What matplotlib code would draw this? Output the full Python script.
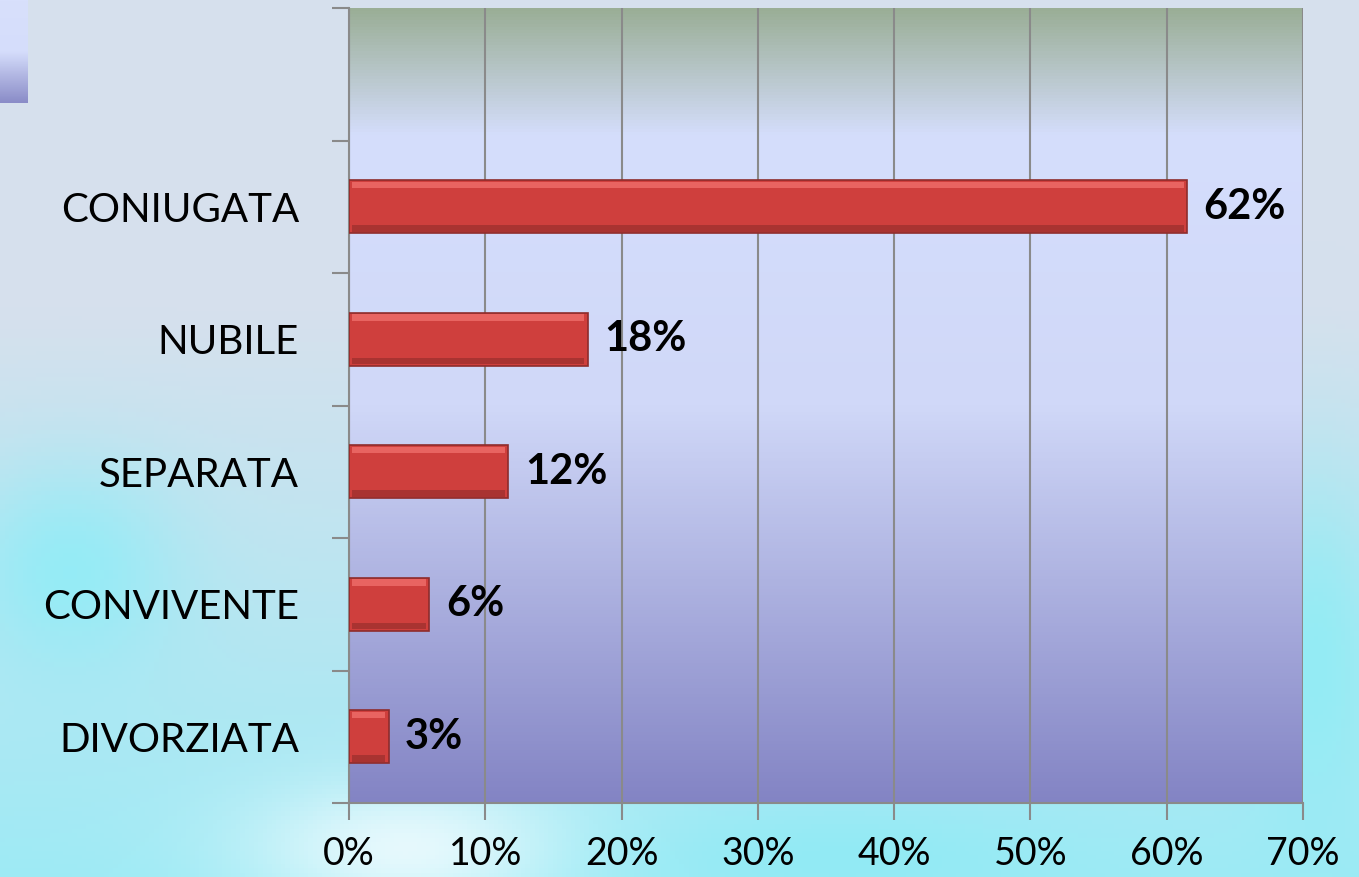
import numpy as np
import matplotlib
matplotlib.use("Agg")
import matplotlib.pyplot as plt
from matplotlib.colors import LinearSegmentedColormap

matplotlib.rcParams['font.family'] = ['Lato', 'DejaVu Sans']

# data (bottom to top), top slot is an empty category
categories = ["DIVORZIATA", "CONVIVENTE", "SEPARATA", "NUBILE", "CONIUGATA", ""]
values = [2.9, 5.9, 11.7, 17.5, 61.5, None]
labels = ["3%", "6%", "12%", "18%", "62%", ""]
xticks = [0, 10, 20, 30, 40, 50, 60, 70]

W, H = 1359, 877
fig = plt.figure(figsize=(W / 100, H / 100), dpi=100)

# slide background
bg = fig.add_axes([0, 0, 1, 1], zorder=-10)
yy, xx = np.mgrid[0:1:200j, 0:1:300j]
top = np.array([0.84, 0.88, 0.93])
bot = np.array([0.62, 0.92, 0.96])
t = np.clip((yy - 0.35) / 0.65, 0, 1)[..., None]
img = top * (1 - t) + bot * t
def blob(cx, cy, sx, sy, col, a):
    g = np.exp(-(((xx - cx) / sx) ** 2 + ((yy - cy) / sy) ** 2))[..., None] * a
    return g, np.array(col)
for cx, cy, sx, sy, col, a in [(0.05, 0.65, 0.08, 0.12, (0.55, 0.93, 0.97), 0.8),
                               (0.3, 0.97, 0.12, 0.08, (0.97, 0.99, 1.0), 0.8),
                               (0.62, 0.98, 0.15, 0.06, (0.55, 0.92, 0.96), 0.7),
                               (0.97, 0.75, 0.05, 0.2, (0.55, 0.93, 0.96), 0.8)]:
    g, c = blob(cx, cy, sx, sy, col, a)
    img = img * (1 - g) + c * g
bg.imshow(img, extent=[0, 1, 1, 0], aspect="auto")
bg.set_xlim(0, 1)
bg.set_ylim(1, 0)
bg.axis("off")

# small square at top left
sq = fig.add_axes([0, 1 - 103 / H, 28 / W, 103 / H], zorder=-5)
sqmap = LinearSegmentedColormap.from_list("sq", ["#d8e0fc", "#d5ddfb", "#8a8cc8"])
sq.imshow(np.linspace(0, 1, 100)[:, None], cmap=sqmap, aspect="auto")
sq.axis("off")

ax = fig.add_axes([349 / W, 1 - 803 / H, (1303 - 349) / W, (803 - 8) / H])
grad = LinearSegmentedColormap.from_list(
    "plot", [(0, "#9aae96"), (0.16, "#d5defc"), (0.5, "#d0d8f8"), (1, "#8384c4")])
ax.imshow(np.linspace(0, 1, 256)[:, None], cmap=grad, aspect="auto",
          extent=[0, 70, -0.5, 5.5], origin="upper", zorder=0)

ypos = np.arange(len(categories))
idx = [i for i, v in enumerate(values) if v is not None]
yb = ypos[idx]
vals = np.array([values[i] for i in idx])
ax.barh(yb, vals, height=0.4, color="#cf3f3d", edgecolor="#8e2c2c",
        linewidth=1.2, zorder=3)
# bevel strips
ax.barh(yb + 0.165, vals - 0.5, left=0.25, height=0.05,
        color="#e86461", linewidth=0, zorder=4)
ax.barh(yb - 0.165, vals - 0.5, left=0.25, height=0.05,
        color="#a93331", linewidth=0, zorder=4)

for y, v, lab in zip(yb, vals, [labels[i] for i in idx]):
    ax.text(v + 1.2, y, lab, va="center", ha="left", fontsize=30,
            fontweight="bold", color="black", zorder=5)

ax.set_xlim(0, 70)
ax.set_ylim(-0.5, 5.5)
ax.set_xticks(xticks)
ax.set_xticklabels([f"{x}%" for x in xticks])
ax.set_yticks(np.arange(len(categories) + 1) - 0.5)
ax.set_yticks(ypos, minor=True)
ax.set_yticklabels([""] * (len(categories) + 1))
ax.set_yticklabels(categories, minor=True)
ax.tick_params(axis="y", which="minor", length=0, pad=36, labelsize=29)
ax.tick_params(axis="y", which="major", length=12, color="#8a8a8a", width=1.5)
ax.tick_params(axis="x", length=12, color="#8a8a8a", width=1.5, labelsize=27, pad=12)
ax.grid(True, axis="x", color="#8a8a8a", lw=1.5, zorder=1)
for s in ["top", "right"]:
    ax.spines[s].set_visible(False)
for s in ["left", "bottom"]:
    ax.spines[s].set_color("#8a8a8a")
    ax.spines[s].set_linewidth(1.5)
ax.set_axisbelow(False)

fig.savefig("out.png", dpi=100)
plt.close(fig)
